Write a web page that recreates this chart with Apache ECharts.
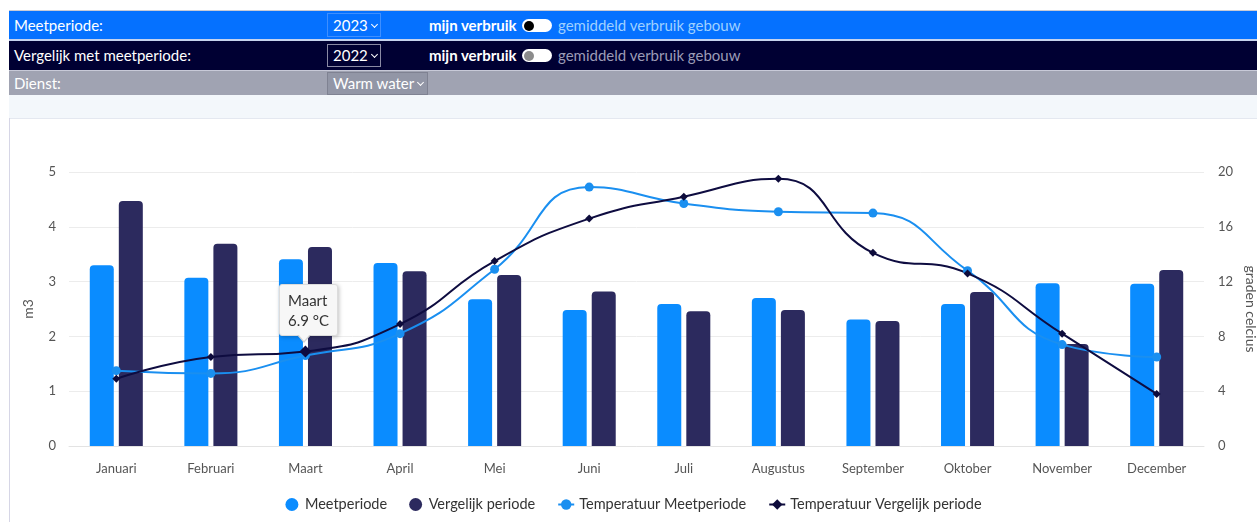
<!DOCTYPE html>
<html>
<head>
<meta charset="utf-8">
<script src="https://cdn.jsdelivr.net/npm/echarts@6/dist/echarts.min.js"></script>
<style>
  html, body { margin: 0; padding: 0; background: #ffffff; width: 1257px; height: 522px; overflow: hidden; font-family: Lato, "Noto Sans", sans-serif; }
  .row { position: absolute; left: 9px; right: 0; color: #ffffff; font-size: 15px; white-space: nowrap; }
  .row .lbl { position: absolute; left: 5px; }
  .sel { position: absolute; left: 318px; box-sizing: border-box; padding: 0 0 0 5px; font-size: 15px; color: #fff; white-space: nowrap; }
  .chev { display: inline-block; width: 4px; height: 4px; border-right: 1.5px solid #fff; border-bottom: 1.5px solid #fff; transform: rotate(45deg); margin-left: 4px; position: relative; top: -4px; }
  .toggleTxt { position: absolute; left: 420px; font-weight: 700; }
  .tog { position: absolute; left: 513px; width: 30px; height: 13px; border-radius: 7px; background: #ffffff; }
  .tog .knob { position: absolute; left: 2px; top: 1.5px; width: 10px; height: 10px; border-radius: 5px; }
  .gem { position: absolute; left: 549px; }
  #chart { position: absolute; left: 10px; top: 118px; width: 1247px; height: 404px; }
</style>
</head>
<body>
<div style="position:absolute;left:9px;top:10px;right:0;height:1px;background:#c9cbd6"></div>
<div class="row" style="top:11px;height:28px;background:#0571ff;line-height:28px;">
  <span class="lbl">Meetperiode:</span>
  <span class="sel" style="top:2px;height:24px;line-height:22px;width:54px;border:1px solid #3f8fff;">2023<span class="chev"></span></span>
  <span class="toggleTxt">mijn verbruik</span>
  <span class="tog" style="top:8px;"><span class="knob" style="background:#000;"></span></span>
  <span class="gem" style="color:#9fd0ff;">gemiddeld verbruik gebouw</span>
</div>
<div style="position:absolute;left:9px;top:39px;right:0;height:2px;background:#c6d3ee"></div>
<div class="row" style="top:41px;height:29px;background:#000033;line-height:28px;">
  <span class="lbl">Vergelijk met meetperiode:</span>
  <span class="sel" style="top:3px;height:23px;line-height:21px;width:54px;border:1px solid #8a8aa4;">2022<span class="chev"></span></span>
  <span class="toggleTxt">mijn verbruik</span>
  <span class="tog" style="top:8px;"><span class="knob" style="background:#8c8c8c;"></span></span>
  <span class="gem" style="color:#9c9cb6;">gemiddeld verbruik gebouw</span>
</div>
<div style="position:absolute;left:9px;top:70px;right:0;height:1px;background:#c8cad8"></div>
<div class="row" style="top:71px;height:24px;background:#a0a3b2;line-height:24px;">
  <span class="lbl">Dienst:</span>
  <span class="sel" style="top:1px;height:23px;line-height:21px;width:101px;border:1px solid #7f8292;background:#9296a6;">Warm water<span class="chev"></span></span>
</div>
<div style="position:absolute;left:9px;top:95px;right:0;height:23px;background:#f3f7fb;border-bottom:1px solid #e4e8f0;"></div>
<div style="position:absolute;left:9px;top:118px;width:1px;height:404px;background:#d6d6e6"></div>
<div id="chart"></div>
<script>
const categories = ['Januari','Februari','Maart','April','Mei','Juni','Juli','Augustus','September','Oktober','November','December'];
const meetperiode = [3.30, 3.07, 3.41, 3.34, 2.68, 2.48, 2.59, 2.70, 2.31, 2.59, 2.97, 2.96];
const vergelijkPeriode = [4.47, 3.69, 3.63, 3.19, 3.12, 2.82, 2.46, 2.48, 2.28, 2.81, 1.86, 3.21];
const tempMeetperiode = [5.5, 5.3, 6.6, 8.2, 12.9, 18.9, 17.7, 17.1, 17.0, 12.8, 7.4, 6.5];
const tempVergelijk = [4.9, 6.5, 6.9, 8.9, 13.5, 16.6, 18.2, 19.5, 14.1, 12.6, 8.2, 3.8];
const leftTicks = [0, 5, 1];
const rightTicks = [0, 20, 4];

const chart = echarts.init(document.getElementById('chart'), null, { renderer: 'canvas' });
const font = 'Lato';
chart.setOption({
  animation: false,
  textStyle: { fontFamily: font },
  grid: { left: 59, right: 53, top: 54, bottom: 76, outerBoundsMode: 'none', containLabel: false },
  tooltip: {
    trigger: 'item',
    alwaysShowContent: true,
    appendToBody: true,
    backgroundColor: '#f7f7f7',
    borderColor: '#dcdcdc',
    borderWidth: 1,
    padding: [5, 8],
    textStyle: { fontFamily: font, fontSize: 15, color: '#333', lineHeight: 20 },
    extraCssText: 'box-shadow: 1px 1px 4px rgba(0,0,0,0.25); border-radius: 3px; line-height: 20px; overflow: visible;',
    position: function (point, params, dom, rect, size) {
      return [point[0] - size.contentSize[0] / 2 + 3, point[1] - size.contentSize[1] - 15];
    },
    formatter: function (p) {
      return '<div style="position:relative;">' + p.name + '<br/>' + p.value + ' °C' +
        '<div style="position:absolute;left:50%;margin-left:-12px;top:100%;margin-top:5px;width:0;height:0;border-left:7px solid transparent;border-right:7px solid transparent;border-top:8px solid #d2d2d2;"></div>' +
        '<div style="position:absolute;left:50%;margin-left:-11px;top:100%;margin-top:4px;width:0;height:0;border-left:6px solid transparent;border-right:6px solid transparent;border-top:7px solid #f7f7f7;"></div>' +
        '</div>';
    }
  },
  legend: {
    bottom: 5,
    left: 'center',
    itemGap: 22,
    itemWidth: 16,
    itemHeight: 13,
    textStyle: { fontFamily: font, fontSize: 14.5, color: '#333' },
    data: [
      { name: 'Meetperiode', icon: 'circle' },
      { name: 'Vergelijk periode', icon: 'circle' },
      { name: 'Temperatuur Meetperiode' },
      { name: 'Temperatuur Vergelijk periode' }
    ]
  },
  xAxis: {
    type: 'category',
    data: categories,
    axisTick: { show: false },
    axisLine: { lineStyle: { color: '#e3e3e3' } },
    axisLabel: { color: '#555', fontSize: 13, margin: 16, fontFamily: font }
  },
  yAxis: [
    {
      type: 'value', min: leftTicks[0], max: leftTicks[1], interval: leftTicks[2],
      name: 'm3', nameLocation: 'middle', nameGap: 34, nameRotate: 90,
      nameTextStyle: { color: '#555', fontSize: 14, fontFamily: font },
      axisLabel: { color: '#555', fontSize: 13, margin: 13, fontFamily: font },
      splitLine: { lineStyle: { color: '#ececec' } },
      axisLine: { show: false }, axisTick: { show: false }
    },
    {
      type: 'value', min: rightTicks[0], max: rightTicks[1], interval: rightTicks[2],
      name: 'graden celcius', nameLocation: 'middle', nameGap: 33, nameRotate: -90,
      nameTextStyle: { color: '#555', fontSize: 14, fontFamily: font },
      axisLabel: { color: '#555', fontSize: 13, margin: 14, fontFamily: font },
      splitLine: { show: false },
      axisLine: { show: false }, axisTick: { show: false }
    }
  ],
  series: [
    {
      name: 'Meetperiode', type: 'bar', yAxisIndex: 0, data: meetperiode,
      barWidth: 24, barGap: '21%',
      itemStyle: { color: '#0a8cff', borderRadius: [4, 4, 0, 0] },
      tooltip: { show: false }
    },
    {
      name: 'Vergelijk periode', type: 'bar', yAxisIndex: 0, data: vergelijkPeriode,
      barWidth: 24,
      itemStyle: { color: '#2c2a5e', borderRadius: [4, 4, 0, 0] },
      tooltip: { show: false }
    },
    {
      name: 'Temperatuur Meetperiode', type: 'line', yAxisIndex: 1, data: tempMeetperiode,
      smooth: 0.5, symbol: 'circle', symbolSize: 9,
      lineStyle: { color: '#1a8ff0', width: 2 },
      itemStyle: { color: '#1a8ff0' }
    },
    {
      name: 'Temperatuur Vergelijk periode', type: 'line', yAxisIndex: 1, data: tempVergelijk,
      smooth: 0.5, symbol: 'diamond', symbolSize: 8,
      lineStyle: { color: '#0d0b3b', width: 2 },
      itemStyle: { color: '#0d0b3b' },
      emphasis: { scale: 1.5 }
    }
  ]
});
chart.dispatchAction({ type: 'highlight', seriesIndex: 3, dataIndex: 2 });
chart.dispatchAction({ type: 'showTip', seriesIndex: 3, dataIndex: 2 });
</script>
</body>
</html>
